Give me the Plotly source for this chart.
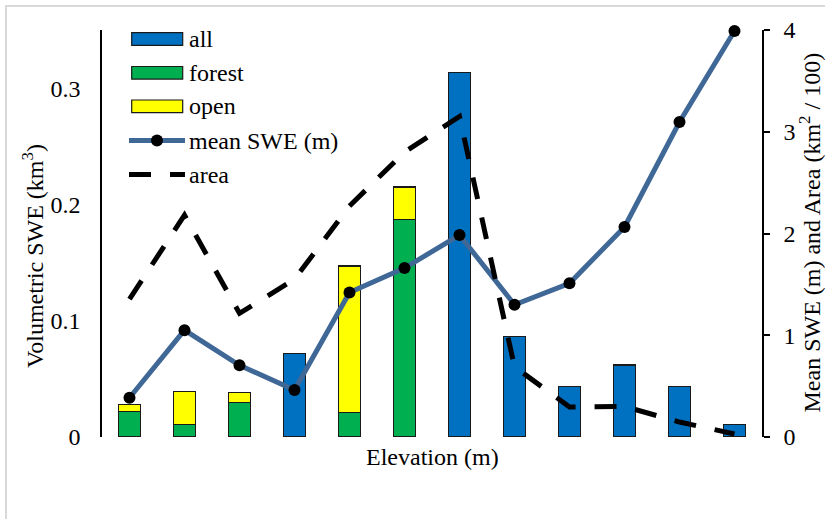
import plotly.graph_objects as go

# Elevation bands (12 bands, labels not shown on the axis)
bands = list(range(1, 13))

# Volumetric SWE (km^3) per band
forest_swe = [0.022, 0.011, 0.030, None, 0.021, 0.187, None, None, None, None, None, None]
open_swe = [0.006, 0.028, 0.0085, None, 0.126, 0.028, None, None, None, None, None, None]
all_swe = [None, None, None, 0.0716, None, None, 0.3135, 0.0865, 0.0434, 0.062, 0.0431, 0.0106]

# Mean SWE (m) and area (km^2 / 100) per band
mean_swe = [0.386, 1.05, 0.705, 0.462, 1.42, 1.66, 1.985, 1.30, 1.51, 2.064, 3.096, 3.99]
area = [1.356, 2.18, 1.216, 1.55, 2.27, 2.80, 3.15, 0.69, 0.295, 0.30, 0.147, 0.03]

left_ticks = [0, 0.1, 0.2, 0.3]
left_ticktext = ["0", "0.1", "0.2", "0.3"]
right_ticks = [0, 1, 2, 3, 4]

FONT = "Liberation Serif, Times New Roman, serif"
FS = 24
BLUE = "#0070C0"
GREEN = "#00B050"
YELLOW = "#FFFF00"
LINE_BLUE = "#3F6897"
OUTLINE = dict(color="#1a1a1a", width=1.2)
DASH = "22px,19px"

W, H = 825, 519
L, R, T, B = 102, 63, 30, 82
PW, PH = W - L - R, H - T - B


def px(xp):
    return (xp - L) / PW


def py(yp):
    return (H - B - yp) / PH


fig = go.Figure()
fig.add_trace(go.Bar(x=bands, y=forest_swe, name="forest", marker=dict(color=GREEN, line=OUTLINE), width=0.4))
fig.add_trace(go.Bar(x=bands, y=open_swe, name="open", marker=dict(color=YELLOW, line=OUTLINE), width=0.4))
fig.add_trace(go.Bar(x=bands, y=all_swe, name="all", marker=dict(color=BLUE, line=OUTLINE), width=0.4))
fig.add_trace(go.Scatter(x=bands, y=mean_swe, name="mean SWE (m)", yaxis="y2", mode="lines+markers",
                         line=dict(color=LINE_BLUE, width=5),
                         marker=dict(color="black", size=12), cliponaxis=False))
fig.add_trace(go.Scatter(x=bands, y=area, name="area", yaxis="y2", mode="lines",
                         line=dict(color="black", width=5, dash=DASH), cliponaxis=False))

fig.update_layout(
    width=W, height=H,
    margin=dict(l=L, r=R, t=T, b=B),
    paper_bgcolor="white", plot_bgcolor="white",
    barmode="stack", showlegend=False,
    font=dict(family=FONT, size=FS, color="black"),
    xaxis=dict(range=[0.5, 12.5], showticklabels=False, showline=False, showgrid=False,
               zeroline=False, ticks=""),
    yaxis=dict(range=[0, 0.35], tickvals=left_ticks, ticktext=left_ticktext, ticks="",
               showline=True, linecolor="black", linewidth=1.5, showgrid=False, zeroline=False,
               ticklabelstandoff=15, tickfont=dict(family=FONT, size=FS)),
    yaxis2=dict(range=[0, 4], overlaying="y", side="right", tickvals=right_ticks,
                ticks="outside", ticklen=6, tickwidth=1.5, tickcolor="black",
                showline=True, linecolor="black", linewidth=1.5, showgrid=False, zeroline=False,
                ticklabelstandoff=9, tickfont=dict(family=FONT, size=FS)),
)

shapes = []
annotations = []

# light frame around the chart area
shapes.append(dict(type="rect", xref="paper", yref="paper", x0=px(6), x1=px(W + 40),
                   y0=py(H + 40), y1=py(6), line=dict(color="#D9D9D9", width=2),
                   fillcolor="rgba(0,0,0,0)", layer="below"))

# legend, drawn inside the plot at the top left
sw_x0, sw_x1, txt_x = 131.7, 182.7, 187
rows = [("all", BLUE, 39), ("forest", GREEN, 72.8), ("open", YELLOW, 106.3)]
for name, color, yc in rows:
    shapes.append(dict(type="rect", xref="paper", yref="paper", x0=px(sw_x0), x1=px(sw_x1),
                       y0=py(yc + 6.3), y1=py(yc - 6.3), fillcolor=color,
                       line=dict(color="#1a1a1a", width=1.2)))
    annotations.append(dict(text=name, xref="paper", yref="paper", x=px(txt_x), y=py(yc),
                            xanchor="left", yanchor="middle", showarrow=False))

y_mean, y_area = 140.5, 174.5
shapes.append(dict(type="line", xref="paper", yref="paper", x0=px(129), x1=px(185),
                   y0=py(y_mean), y1=py(y_mean), line=dict(color=LINE_BLUE, width=5)))
shapes.append(dict(type="circle", xref="paper", yref="paper", xsizemode="pixel", ysizemode="pixel",
                   xanchor=px(157), yanchor=py(y_mean), x0=-6, x1=6, y0=-6, y1=6,
                   fillcolor="black", line=dict(color="black", width=0)))
annotations.append(dict(text="mean SWE (m)", xref="paper", yref="paper", x=px(txt_x), y=py(y_mean),
                        xanchor="left", yanchor="middle", showarrow=False))
shapes.append(dict(type="line", xref="paper", yref="paper", x0=px(129), x1=px(185),
                   y0=py(y_area), y1=py(y_area), line=dict(color="black", width=5, dash=DASH)))
annotations.append(dict(text="area", xref="paper", yref="paper", x=px(txt_x), y=py(y_area),
                        xanchor="left", yanchor="middle", showarrow=False))

# axis titles
annotations.append(dict(text="Volumetric SWE (km<sup>3</sup>)", xref="paper", yref="paper",
                        x=px(33), y=py(256), textangle=-90, showarrow=False,
                        xanchor="center", yanchor="middle"))
annotations.append(dict(text="Mean SWE (m) and Area (km<sup>2</sup> / 100)", xref="paper", yref="paper",
                        x=px(809), y=py(232.5), textangle=-90, showarrow=False,
                        xanchor="center", yanchor="middle"))
annotations.append(dict(text="Elevation (m)", xref="paper", yref="paper",
                        x=px(432), y=py(457), showarrow=False, xanchor="center", yanchor="middle"))

fig.update_layout(shapes=shapes, annotations=annotations)
fig.write_html("out.html")
